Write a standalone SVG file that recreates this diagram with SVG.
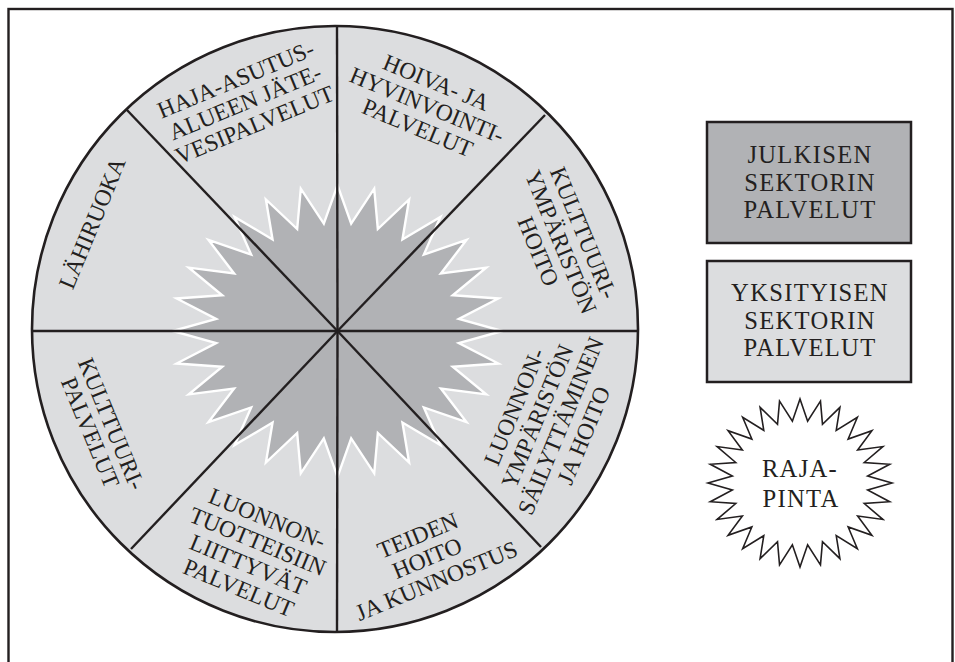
<svg xmlns="http://www.w3.org/2000/svg" xmlns:xlink="http://www.w3.org/1999/xlink" width="955" height="662" viewBox="0 0 955 662">
<style>
.ink{stroke:#231f20;fill:none}
.lbl{font-family:"Liberation Serif","DejaVu Serif",serif;font-size:23.5px;fill:#231f20;text-anchor:middle}
.leg{font-family:"Liberation Serif","DejaVu Serif",serif;font-size:24.6px;letter-spacing:1.3px;fill:#231f20;text-anchor:middle}
.box{stroke:#231f20;stroke-width:2.5}
</style>
<defs>
<polygon id="star" vector-effect="non-scaling-stroke" points="100,0 73.53,8.29 97.49,22.25 69.85,24.44 90.10,43.39 62.66,39.37 78.18,62.35 52.33,52.33 62.35,78.18 39.37,62.66 43.39,90.10 24.44,69.85 22.25,97.49 8.29,73.53 0,100 -8.29,73.53 -22.25,97.49 -24.44,69.85 -43.39,90.10 -39.37,62.66 -62.35,78.18 -52.33,52.33 -78.18,62.35 -62.66,39.37 -90.10,43.39 -69.85,24.44 -97.49,22.25 -73.53,8.29 -100,0 -73.53,-8.29 -97.49,-22.25 -69.85,-24.44 -90.10,-43.39 -62.66,-39.37 -78.18,-62.35 -52.33,-52.33 -62.35,-78.18 -39.37,-62.66 -43.39,-90.10 -24.44,-69.85 -22.25,-97.49 -8.29,-73.53 0,-100 8.29,-73.53 22.25,-97.49 24.44,-69.85 43.39,-90.10 39.37,-62.66 62.35,-78.18 52.33,-52.33 78.18,-62.35 62.66,-39.37 90.10,-43.39 69.85,-24.44 97.49,-22.25 73.53,-8.29"/>
</defs>
<rect width="955" height="662" fill="#ffffff"/>
<rect x="8.5" y="9" width="944" height="700" class="ink" stroke-width="2.4"/>

<g id="wheel">
<circle cx="335" cy="329" r="303" fill="#dcdddf"/>
<use xlink:href="#star" transform="translate(337.5,331) scale(1.65,1.46)" fill="#b1b2b5" stroke="#ffffff" stroke-width="2.4"/>
</g>

<g id="dividers" class="ink" stroke-width="2.4">
<line x1="337.5" y1="331" x2="337" y2="26"/>
<line x1="337.5" y1="331" x2="337" y2="632"/>
<line x1="337.5" y1="331" x2="32" y2="331"/>
<line x1="337.5" y1="331" x2="638" y2="331"/>
<line x1="337.5" y1="331" x2="126" y2="109"/>
<line x1="337.5" y1="331" x2="545" y2="115"/>
<line x1="337.5" y1="331" x2="131" y2="549"/>
<line x1="337.5" y1="331" x2="541" y2="547"/>
</g>
<circle cx="335" cy="329" r="303" class="ink" stroke-width="2.6"/>

<g id="seg-haja">
<text class="lbl" transform="translate(245,102) rotate(-22.5)"><tspan x="0" y="-16.5">HAJA-ASUTUS-</tspan><tspan x="0" y="8">ALUEEN JÄTE-</tspan><tspan x="0" y="32.5">VESIPALVELUT</tspan></text>
</g>
<g id="seg-hoiva">
<text class="lbl" transform="translate(427,105) rotate(22.5)"><tspan x="0" y="-16.5">HOIVA- JA</tspan><tspan x="0" y="8">HYVINVOINTI-</tspan><tspan x="0" y="32.5">PALVELUT</tspan></text>
</g>
<g id="seg-kulttuuriymparisto">
<text class="lbl" transform="translate(561,242) rotate(67.5)"><tspan x="0" y="-16.5">KULTTUURI-</tspan><tspan x="0" y="8">YMPÄRISTÖN</tspan><tspan x="0" y="32.5">HOITO</tspan></text>
</g>
<g id="seg-luonnonymparisto">
<text class="lbl" transform="translate(549,421) rotate(-67.5)"><tspan x="0" y="-29.5">LUONNON-</tspan><tspan x="0" y="-4.5">YMPÄRISTÖN</tspan><tspan x="0" y="20.5">SÄILYTTÄMINEN</tspan><tspan x="0" y="45.5">JA HOITO</tspan></text>
</g>
<g id="seg-teiden">
<text class="lbl" transform="translate(427,558) rotate(-22.5)"><tspan x="0" y="-16.5">TEIDEN</tspan><tspan x="0" y="8">HOITO</tspan><tspan x="0" y="32.5">JA KUNNOSTUS</tspan></text>
</g>
<g id="seg-luonnontuotteet">
<text class="lbl" transform="translate(253,553) rotate(22.5)"><tspan x="0" y="-29.5">LUONNON-</tspan><tspan x="0" y="-4.5">TUOTTEISIIN</tspan><tspan x="0" y="20.5">LIITTYVÄT</tspan><tspan x="0" y="45.5">PALVELUT</tspan></text>
</g>
<g id="seg-kulttuuripalvelut">
<text class="lbl" transform="translate(101,428) rotate(67.5)"><tspan x="0" y="-3.5">KULTTUURI-</tspan><tspan x="0" y="19.5">PALVELUT</tspan></text>
</g>
<g id="seg-lahiruoka">
<text class="lbl" transform="translate(92,223) rotate(-67.5)"><tspan x="0" y="8">LÄHIRUOKA</tspan></text>
</g>

<g id="legend-julkinen">
<rect x="707" y="122" width="204" height="121" fill="#b1b2b5" class="box"/>
<text class="leg"><tspan x="810" y="163">JULKISEN</tspan><tspan x="810" y="190.5">SEKTORIN</tspan><tspan x="810" y="218">PALVELUT</tspan></text>
</g>
<g id="legend-yksityinen">
<rect x="707" y="261" width="204" height="121" fill="#dcdddf" class="box"/>
<text class="leg"><tspan x="810" y="301">YKSITYISEN</tspan><tspan x="810" y="328.5">SEKTORIN</tspan><tspan x="810" y="356">PALVELUT</tspan></text>
</g>
<g id="legend-rajapinta">
<use xlink:href="#star" transform="translate(800,483) scale(0.92,0.84)" fill="#ffffff" stroke="#231f20" stroke-width="1.6"/>
<text class="leg"><tspan x="800" y="477">RAJA-</tspan><tspan x="801" y="506.5">PINTA</tspan></text>
</g>
</svg>
